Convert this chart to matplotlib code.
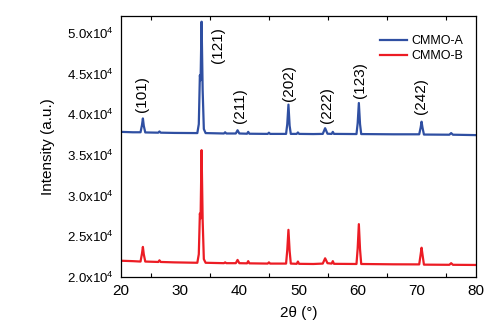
import matplotlib
matplotlib.use("Agg")
import matplotlib.pyplot as plt
from matplotlib.ticker import FixedLocator, MultipleLocator

plt.rcParams['font.family'] = ['Liberation Sans', 'DejaVu Sans']
plt.rcParams['mathtext.fontset'] = 'custom'
plt.rcParams['mathtext.rm'] = 'Liberation Sans'
plt.rcParams['mathtext.it'] = 'Liberation Sans:italic'

two_theta = [20, 22, 23.3, 23.55, 23.7, 23.85, 24.1, 26.3, 26.5, 26.7, 29, 32.9, 33.15, 33.33,
             33.45, 33.62, 33.8, 34.0, 34.3, 37.4, 37.6, 37.8, 39.4, 39.7, 40.0, 41.3, 41.5,
             41.7, 44.8, 45.0, 45.2, 47.9, 48.1, 48.3, 48.5, 48.7, 49.7, 49.9, 50.1, 52.5,
             54.1, 54.5, 54.9, 55.6, 55.8, 56.0, 59.8, 60.0, 60.2, 60.4, 60.6, 66, 70.4,
             70.65, 70.8, 70.95, 71.2, 75.5, 75.8, 76.1, 80]

cmmo_a = [37850, 37800, 37800, 38700, 39500, 38600, 37780, 37750, 37900, 37750, 37720, 37700,
          38800, 44800, 44200, 51400, 43000, 38200, 37700, 37650, 37800, 37650, 37650, 38050,
          37650, 37620, 37850, 37620, 37600, 37750, 37600, 37600, 38800, 41200, 38600, 37600,
          37600, 37780, 37600, 37580, 37600, 38300, 37620, 37600, 37850, 37600, 37580, 38900,
          41400, 38800, 37580, 37550, 37550, 38400, 39100, 38400, 37520, 37500, 37700, 37500,
          37450]

cmmo_b = [22000, 21950, 21900, 22900, 23700, 22800, 21900, 21850, 22050, 21850, 21800, 21750,
          22800, 27800, 27200, 35600, 27000, 22200, 21750, 21700, 21800, 21700, 21700, 22100,
          21700, 21680, 21950, 21680, 21650, 21800, 21650, 21650, 23300, 25800, 23200, 21650,
          21620, 21900, 21620, 21600, 21650, 22300, 21700, 21650, 21950, 21620, 21600, 23500,
          26500, 23400, 21600, 21560, 21550, 22800, 23600, 22800, 21520, 21500, 21700, 21500,
          21480]

hkl_labels = ['(101)', '(121)', '(211)', '(202)', '(222)', '(123)', '(242)']
hkl_x = [23.5, 36.4, 40.1, 48.4, 54.8, 60.4, 70.7]
hkl_y = [40250, 46300, 38900, 41700, 38900, 42000, 40100]

y_ticks = [20000, 25000, 30000, 35000, 40000, 45000, 50000]
y_tick_labels = ['2.0x10$^4$', '2.5x10$^4$', '3.0x10$^4$', '3.5x10$^4$',
                 '4.0x10$^4$', '4.5x10$^4$', '5.0x10$^4$']
x_ticks = [20, 30, 40, 50, 60, 70, 80]

fig = plt.figure(figsize=(4.9, 3.27), dpi=100)
ax = fig.add_axes([121/490, 1 - 277/327, (476-121)/490, (277-16)/327])

ax.plot(two_theta, cmmo_a, color='#2f4fa2', lw=1.6, label='CMMO-A')
ax.plot(two_theta, cmmo_b, color='#ec1c24', lw=1.6, label='CMMO-B')

for lab, xx, yy in zip(hkl_labels, hkl_x, hkl_y):
    ax.text(xx, yy, lab, rotation=90, ha='center', va='bottom', fontsize=11)

ax.set_xlim(20, 80)
ax.set_ylim(20000, 52100)
ax.xaxis.set_major_locator(FixedLocator(x_ticks))
ax.xaxis.set_minor_locator(MultipleLocator(5))
ax.set_yticks(y_ticks)
ax.set_yticklabels(y_tick_labels)
ax.tick_params(axis='x', which='both', direction='in', top=True, bottom=True,
               labelsize=11, pad=5, width=0.8)
ax.tick_params(axis='x', which='major', length=0)
ax.tick_params(axis='x', which='minor', length=3)
ax.tick_params(axis='y', which='both', length=0, labelsize=9.5, pad=5)
for s in ax.spines.values():
    s.set_linewidth(0.9)

ax.set_xlabel('2θ (°)', fontsize=11, labelpad=6)
ax.set_ylabel('Intensity (a.u.)', fontsize=11, labelpad=9)

ax.legend(loc='upper right', frameon=False, fontsize=9, handlelength=2.2,
          handletextpad=0.3, labelspacing=0.25, bbox_to_anchor=(0.995, 0.97))

fig.savefig('out.png', dpi=100, facecolor='white')
